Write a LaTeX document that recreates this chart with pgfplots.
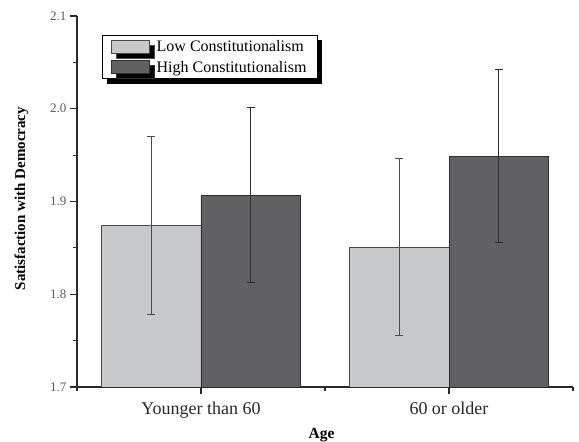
\documentclass[border=0pt]{standalone}
\usepackage{pgfplots}
\pgfplotsset{compat=1.18}
\usepackage{fontspec}
\setmainfont{Liberation Serif}
\usetikzlibrary{shadows}
\definecolor{lowfill}{HTML}{C8C9CB}
\definecolor{highfill}{HTML}{616063}
\definecolor{lowedge}{HTML}{4A4A4A}
\definecolor{highedge}{HTML}{2E2E2E}
\definecolor{axcol}{HTML}{2A2A2A}
\definecolor{tickcol}{HTML}{5A5A5A}
\begin{document}
\begin{tikzpicture}
\begin{axis}[
  at={(0,0)}, anchor=south west,
  scale only axis, width=496pt, height=371pt,
  xmin=-0.5, xmax=1.5, ymin=1.7, ymax=2.1,
  ybar=0pt, bar width=99.2pt,
  axis x line*=bottom, axis y line*=left,
  axis line style={color=axcol, line width=1.1pt},
  every tick/.style={color=axcol, line width=1.1pt},
  tick align=outside,
  major tick length=7pt, minor tick length=4pt,
  xtick={0,1}, minor xtick={-0.5,0.5,1.5},
  xticklabels={Younger than 60, 60 or older},
  ytick={1.7,1.8,1.9,2.0,2.1}, minor ytick={1.75,1.85,1.95,2.05},
  /pgf/number format/fixed, /pgf/number format/fixed zerofill,
  /pgf/number format/precision=1, /pgf/number format/assume math mode=true,
  yticklabel style={font=\fontsize{13}{13}\selectfont, color=tickcol},
  xticklabel style={font=\fontsize{18}{18}\selectfont, color=black!85, anchor=base, yshift=-21pt},
  xlabel={\textbf{Age}},
  ylabel={\textbf{Satisfaction with Democracy}},
  every axis x label/.style={at={(axis description cs:0.493,0)}, anchor=base, yshift=-52pt, font=\fontsize{15.5}{15.5}\selectfont},
  every axis y label/.style={at={(axis description cs:-0.1119,0.508)}, rotate=90, anchor=center, font=\fontsize{15}{15}\selectfont},
  legend style={at={(axis description cs:0.0504,0.9488)}, anchor=north west,
    draw=black, line width=0.8pt, fill=white,
    inner xsep=8.5pt, inner ysep=3pt, row sep=4pt,
    /tikz/every odd column/.append style={column sep=5pt},
    font=\fontsize{16}{16}\selectfont,
    general shadow={fill=black, shadow xshift=5pt, shadow yshift=-5pt}},
  legend cell align=left,
]
\addplot[fill=lowfill, draw=lowedge, line width=0.8pt,
  legend image code/.code={\draw[fill=lowfill, draw=lowedge, line width=0.8pt] (0pt,-6.5pt) rectangle (38pt,6.5pt);},
  error bars/.cd, y dir=both, y explicit,
  error bar style={color=lowedge, line width=0.9pt},
  error mark options={rotate=90, mark size=4pt, line width=0.9pt, color=lowedge}]
  coordinates {(0,1.874) +- (0,0.096) (1,1.851) +- (0,0.095)};
\addplot[fill=highfill, draw=highedge, line width=0.8pt,
  legend image code/.code={\draw[fill=highfill, draw=highedge, line width=0.8pt] (0pt,-6.5pt) rectangle (38pt,6.5pt);},
  error bars/.cd, y dir=both, y explicit,
  error bar style={color=highedge, line width=0.9pt},
  error mark options={rotate=90, mark size=4pt, line width=0.9pt, color=highedge}]
  coordinates {(0,1.907) +- (0,0.094) (1,1.949) +- (0,0.093)};
\legend{Low Constitutionalism\hspace{9pt}, High Constitutionalism\hspace{9pt}}
\end{axis}
\pgfresetboundingbox
\path[use as bounding box] (-77pt,-55pt) rectangle (502pt,387pt);
\end{tikzpicture}
\end{document}
